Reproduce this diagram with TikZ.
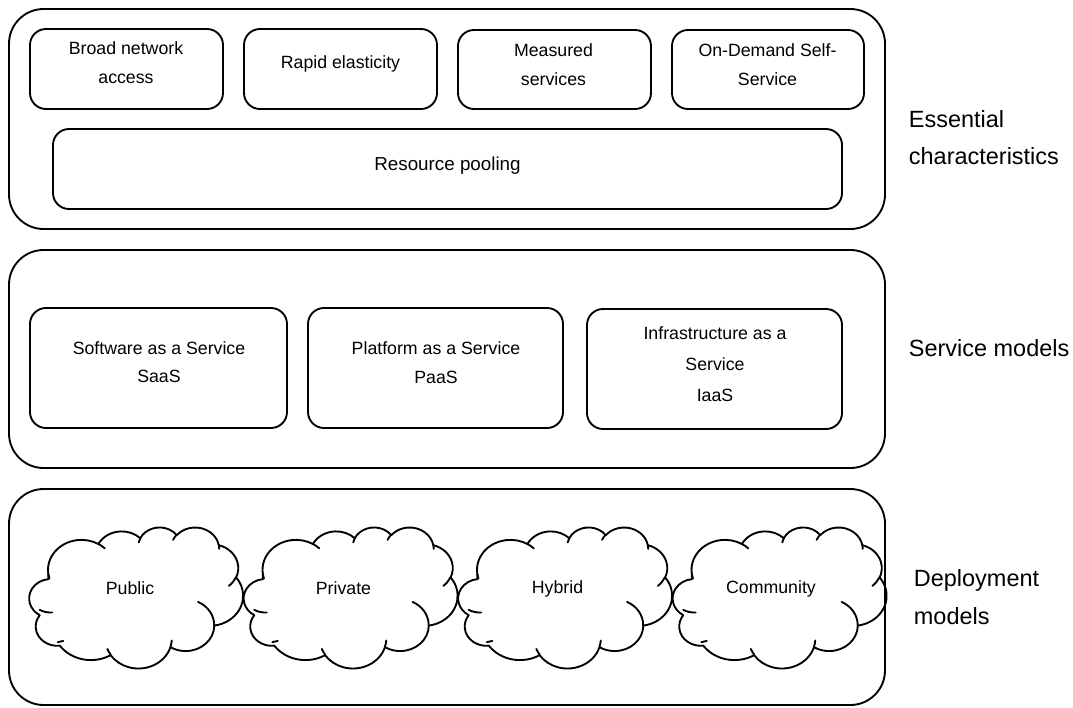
\documentclass[tikz,border=0pt]{standalone}
\usepackage{fontspec}
\setmainfont{Liberation Sans}
\usetikzlibrary{fit}

% convert a DrawingML (visual) angle into a parametric ellipse angle
\newcommand\visang[3]{%
  \pgfmathparse{atan2((#1)*sin(#3),(#2)*cos(#3))}%
  \pgfmathparse{(#3)+mod(\pgfmathresult-(#3)+540,360)-180}%
}
\def\cloudouter{}
\foreach \rx/\ry/\st/\sw [count=\k] in {
  6.753/9.190/-190.48748/123.78053,
  5.333/7.267/-144.10238/89.94523,
  4.365/5.945/-145.80792/99.72302,
  4.857/6.595/-130.98607/117.24173,
  5.333/7.273/-78.70888/109.02692,
  6.775/9.220/-46.26725/130.269,
  5.785/7.867/0.62502/114.03333,
  6.752/9.215/22.4516/115.17255,
  7.720/10.543/66.24263/69.48767,
  4.360/5.918/-274.94208/139.4027,
  4.345/5.945/-246.8285/152.53332}{%
  \visang{\rx}{\ry}{\st}\edef\ta{\pgfmathresult}%
  \pgfmathsetmacro\en{\st+\sw}%
  \visang{\rx}{\ry}{\en}\edef\tb{\pgfmathresult}%
  \ifnum\k=1 \xdef\cloudouter{\rx/\ry/\ta/\tb}%
  \else \xdef\cloudouter{\cloudouter,\rx/\ry/\ta/\tb}\fi
}
\def\cloudinner{}
\foreach \px/\py/\rx/\ry/\st/\sw [count=\k] in {
  4.693/26.177/4.345/5.945/86.742/26.4295,
  6.928/34.899/4.360/5.918/73.6105/11.4475,
  16.478/39.090/6.752/9.215/137.6242/14.0811,
  28.827/34.751/6.752/9.215/6.4533/15.9984,
  34.129/22.954/5.785/7.867/-70.2924/70.9174,
  41.798/15.354/5.333/7.273/30.318/27.7515,
  38.324/5.426/4.857/6.595/-13.7443/14.8589,
  29.078/3.952/4.857/6.595/-149.1815/18.1954,
  22.141/4.720/4.365/5.945/-163.4943/17.6864,
  14.000/5.192/6.753/9.190/-66.7070/12.3194,
  4.127/15.789/6.753/9.190/157.6544/11.8582}{%
  \visang{\rx}{\ry}{\st}\edef\ta{\pgfmathresult}%
  \pgfmathsetmacro\en{\st+\sw}%
  \visang{\rx}{\ry}{\en}\edef\tb{\pgfmathresult}%
  \ifnum\k=1 \xdef\cloudinner{\px/\py/\rx/\ry/\ta/\tb}%
  \else \xdef\cloudinner{\cloudinner,\px/\py/\rx/\ry/\ta/\tb}\fi
}
\newcommand\drawcloud[2]{%
  \begin{scope}[shift={(#1,#2)}, x=3.7153pt, y=-2.4479pt]
    \draw[cloudline] (3.9,14.37)
      \foreach \rx/\ry/\ta/\tb in \cloudouter
        {arc[x radius=\rx, y radius=\ry, start angle=\ta, end angle=\tb]} -- cycle;
    \foreach \px/\py/\rx/\ry/\ta/\tb in \cloudinner
      {\draw[cloudline] (\px,\py) arc[x radius=\rx, y radius=\ry, start angle=\ta, end angle=\tb];}
  \end{scope}}

\begin{document}
\begin{tikzpicture}[x=0.75pt, y=-0.75pt, line width=1.4pt,
  obox/.style={draw, rounded corners=26pt, inner sep=0pt},
  ibox/.style={draw, rounded corners=12pt, inner sep=0pt},
  txt/.style={font=\fontsize{13.3}{21.75}\selectfont, align=center, inner sep=0pt},
  lbl/.style={font=\fontsize{17.6}{28}\selectfont, align=left, anchor=west, inner sep=0pt},
  cloudline/.style={line width=1.4pt, line join=round, line cap=round}]
\fill[white] (0,0) rectangle (1073,707);
\useasboundingbox (0,0) rectangle (1073,707);

% outer frames
\node[obox, fit={(9,9) (885,229)}] (ec) {};
\node[obox, fit={(9,250) (885,468)}] (sm) {};
\node[obox, fit={(9,489) (885,705)}] (dm) {};

% essential characteristics
\node[ibox, fit={(30,29) (223,109)}] (bna) {};
\node[ibox, fit={(244,29) (437,109)}] (rel) {};
\node[ibox, fit={(458,30) (651,109)}] (msv) {};
\node[ibox, fit={(672,30) (864,109)}] (ods) {};
\node[ibox, fit={(53,129) (842,209)}] (rpl) {};
\node[txt] (bnaT) at (126,62.7) {Broad network\\access};
\node[txt] (relT) at (340.5,64.1) {Rapid elasticity};
\node[txt] (msvT) at (553.5,64.7) {Measured\\services};
\node[txt] (odsT) at (767.5,64.2) {On-Demand Self-\\Service};
\node[txt, font=\fontsize{14.1}{21.75}\selectfont] (rplT) at (447.5,165.3) {Resource pooling};

% service models
\node[ibox, fit={(30,308) (287,428)}] (saas) {};
\node[ibox, fit={(308,308) (563,428)}] (paas) {};
\node[ibox, fit={(587,309) (842,429)}] (iaas) {};
\node[txt, font=\fontsize{13.3}{21.2}\selectfont] (saasT) at (159,362.2) {Software as a Service\\SaaS};
\node[txt, font=\fontsize{13.3}{21.7}\selectfont] (paasT) at (436,362.7) {Platform as a Service\\PaaS};
\node[txt, font=\fontsize{13.3}{23.25}\selectfont] (iaasT) at (715,364.2) {Infrastructure as a\\Service\\IaaS};

% deployment models
\drawcloud{29}{527}
\drawcloud{243.5}{527}
\drawcloud{458}{527}
\drawcloud{672.5}{527}
\node[txt] (pub) at (130,588.2) {Public};
\node[txt] (pri) at (343.5,588.2) {Private};
\node[txt] (hyb) at (557.5,589.1) {Hybrid};
\node[txt] (com) at (771,589.1) {Community};

% side labels
\node[lbl] (ecL) at (908,137.6) {Essential\\characteristics};
\node[lbl] (smL) at (908,348.5) {Service models};
\node[lbl] (dmL) at (913,597) {Deployment\\models};
\end{tikzpicture}
\end{document}
